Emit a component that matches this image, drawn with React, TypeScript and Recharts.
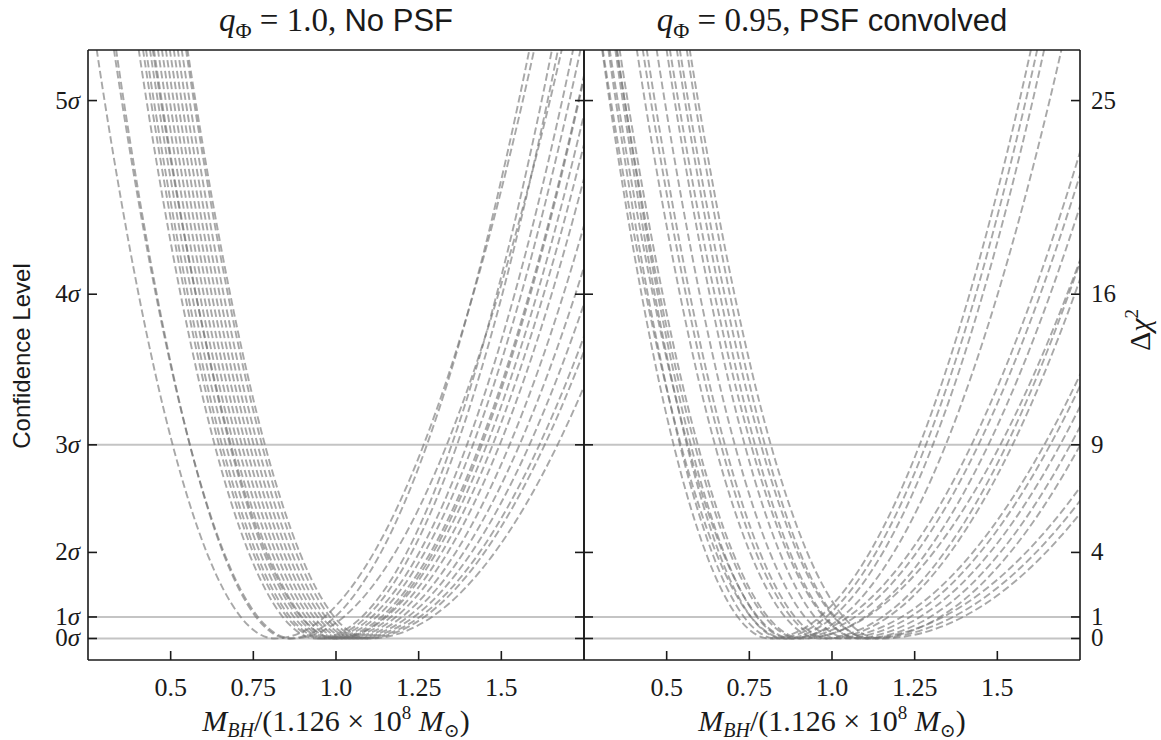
import React from 'react'
import { LineChart, Line, XAxis, YAxis, ReferenceLine } from 'recharts'

// Δχ² levels at which every profile's x-crossings were read: 6σ..1σ left, minimum, 1σ..6σ right
const DCHI2_LEVELS = [36, 25, 16, 9, 4, 1, 0, 1, 4, 9, 16, 25, 36]

const Y_TICKS = [0, 1, 4, 9, 16, 25]
const SIGMA_LABELS = ['0', '1', '2', '3', '4', '5']
const CHI2_LABELS = ['0', '1', '4', '9', '16', '25']
const X_TICKS = [0.5, 0.75, 1.0, 1.25, 1.5]
const X_TICK_LABELS = ['0.5', '0.75', '1.0', '1.25', '1.5']
const REF_LEVELS = [0, 1, 9]

// left panel: q = 1.0, no PSF
const NO_PSF_CURVES = [
  [0.197, 0.3, 0.403, 0.506, 0.609, 0.712, 0.815, 0.965, 1.115, 1.265, 1.415, 1.565, 1.715],
  [0.258, 0.358, 0.458, 0.558, 0.658, 0.758, 0.858, 0.997, 1.136, 1.275, 1.414, 1.553, 1.692],
  [0.249, 0.352, 0.455, 0.558, 0.661, 0.764, 0.867, 1.023, 1.179, 1.335, 1.491, 1.647, 1.803],
  [0.324, 0.427, 0.53, 0.633, 0.736, 0.839, 0.942, 1.078, 1.214, 1.35, 1.486, 1.622, 1.758],
  [0.337, 0.44, 0.543, 0.646, 0.749, 0.852, 0.955, 1.092, 1.229, 1.366, 1.503, 1.64, 1.777],
  [0.346, 0.449, 0.552, 0.655, 0.758, 0.861, 0.964, 1.108, 1.252, 1.396, 1.54, 1.684, 1.828],
  [0.358, 0.461, 0.564, 0.667, 0.77, 0.873, 0.976, 1.122, 1.268, 1.414, 1.56, 1.706, 1.852],
  [0.37, 0.473, 0.576, 0.679, 0.782, 0.885, 0.988, 1.137, 1.286, 1.435, 1.584, 1.733, 1.882],
  [0.382, 0.485, 0.588, 0.691, 0.794, 0.897, 1.0, 1.152, 1.304, 1.456, 1.608, 1.76, 1.912],
  [0.364, 0.47, 0.576, 0.682, 0.788, 0.894, 1.0, 1.147, 1.294, 1.441, 1.588, 1.735, 1.882],
  [0.394, 0.497, 0.6, 0.703, 0.806, 0.909, 1.012, 1.166, 1.32, 1.474, 1.628, 1.782, 1.936],
  [0.406, 0.509, 0.612, 0.715, 0.818, 0.921, 1.024, 1.181, 1.338, 1.495, 1.652, 1.809, 1.966],
  [0.418, 0.521, 0.624, 0.727, 0.83, 0.933, 1.036, 1.199, 1.362, 1.525, 1.688, 1.851, 2.014],
  [0.43, 0.533, 0.636, 0.739, 0.842, 0.945, 1.048, 1.217, 1.386, 1.555, 1.724, 1.893, 2.062],
  [0.442, 0.545, 0.648, 0.751, 0.854, 0.957, 1.06, 1.235, 1.41, 1.585, 1.76, 1.935, 2.11],
  [0.454, 0.557, 0.66, 0.763, 0.866, 0.969, 1.072, 1.253, 1.434, 1.615, 1.796, 1.977, 2.158],
  [0.467, 0.57, 0.673, 0.776, 0.879, 0.982, 1.085, 1.267, 1.449, 1.631, 1.813, 1.995, 2.177],
  [0.47, 0.575, 0.68, 0.785, 0.89, 0.995, 1.1, 1.29, 1.48, 1.67, 1.86, 2.05, 2.24],
]

// right panel: q = 0.95, PSF convolved
const PSF_CURVES = [
  [0.23, 0.327, 0.424, 0.521, 0.618, 0.715, 0.812, 0.963, 1.114, 1.265, 1.416, 1.567, 1.718],
  [0.249, 0.346, 0.443, 0.54, 0.637, 0.734, 0.831, 0.982, 1.133, 1.284, 1.435, 1.586, 1.737],
  [0.27, 0.367, 0.464, 0.561, 0.658, 0.755, 0.852, 1.003, 1.154, 1.305, 1.456, 1.607, 1.758],
  [0.273, 0.373, 0.473, 0.573, 0.673, 0.773, 0.873, 1.03, 1.187, 1.344, 1.501, 1.658, 1.815],
  [0.225, 0.331, 0.437, 0.543, 0.649, 0.755, 0.861, 1.048, 1.235, 1.422, 1.609, 1.796, 1.983],
  [0.246, 0.352, 0.458, 0.564, 0.67, 0.776, 0.882, 1.069, 1.256, 1.443, 1.63, 1.817, 2.004],
  [0.276, 0.382, 0.488, 0.594, 0.7, 0.806, 0.912, 1.099, 1.286, 1.473, 1.66, 1.847, 2.034],
  [0.267, 0.373, 0.479, 0.585, 0.691, 0.797, 0.903, 1.105, 1.307, 1.509, 1.711, 1.913, 2.115],
  [0.328, 0.434, 0.54, 0.646, 0.752, 0.858, 0.964, 1.152, 1.34, 1.528, 1.716, 1.904, 2.092],
  [0.346, 0.452, 0.558, 0.664, 0.77, 0.876, 0.982, 1.17, 1.358, 1.546, 1.734, 1.922, 2.11],
  [0.358, 0.464, 0.57, 0.676, 0.782, 0.888, 0.994, 1.21, 1.426, 1.642, 1.858, 2.074, 2.29],
  [0.388, 0.494, 0.6, 0.706, 0.812, 0.918, 1.024, 1.236, 1.448, 1.66, 1.872, 2.084, 2.296],
  [0.418, 0.524, 0.63, 0.736, 0.842, 0.948, 1.054, 1.266, 1.478, 1.69, 1.902, 2.114, 2.326],
  [0.449, 0.555, 0.661, 0.767, 0.873, 0.979, 1.085, 1.297, 1.509, 1.721, 1.933, 2.145, 2.357],
  [0.479, 0.585, 0.691, 0.797, 0.903, 1.009, 1.115, 1.327, 1.539, 1.751, 1.963, 2.175, 2.387],
  [0.425, 0.535, 0.645, 0.755, 0.865, 0.975, 1.085, 1.336, 1.587, 1.838, 2.089, 2.34, 2.591],
  [0.455, 0.565, 0.675, 0.785, 0.895, 1.005, 1.115, 1.366, 1.617, 1.868, 2.119, 2.37, 2.621],
  [0.485, 0.595, 0.705, 0.815, 0.925, 1.035, 1.145, 1.396, 1.647, 1.898, 2.149, 2.4, 2.651],
]

const X_DOMAIN: [number, number] = [0.25, 1.75]
const Y_DOMAIN: [number, number] = [-1, 27.35]

const SERIF = '"Liberation Serif", "DejaVu Serif", serif'
const SANS = '"Liberation Sans", Arial, sans-serif'
const TICK_LEN = 9
const INK = '#1a1a1a'

function toPoints(xs: number[]) {
  return xs.map((x, i) => ({ x, y: DCHI2_LEVELS[i] }))
}

// inward ticks, matplotlib style
const bottomTick = (p: any) => {
  const i = X_TICKS.indexOf(p.payload.value)
  return (
    <g>
      <line x1={p.x} x2={p.x} y1={p.y} y2={p.y - TICK_LEN} stroke={INK} strokeWidth={1.6} />
      <text x={p.x} y={p.y + 36} textAnchor="middle" fontFamily={SERIF} fontSize={26} fill={INK}>
        {X_TICK_LABELS[i]}
      </text>
    </g>
  )
}

const topTick = (p: any) => (
  <line x1={p.x} x2={p.x} y1={p.y} y2={p.y + TICK_LEN} stroke={INK} strokeWidth={1.6} />
)

const leftTick = (mode: 'sigma' | 'none') => (p: any) => {
  const i = Y_TICKS.indexOf(p.payload.value)
  return (
    <g>
      <line x1={p.x} x2={p.x + TICK_LEN} y1={p.y} y2={p.y} stroke={INK} strokeWidth={1.6} />
      {mode === 'sigma' && (
        <text x={p.x - 8} y={p.y + 8} textAnchor="end" fontFamily={SERIF} fontSize={25} fill={INK}>
          {SIGMA_LABELS[i]}
          <tspan fontStyle="italic">σ</tspan>
        </text>
      )}
    </g>
  )
}

const rightTick = (mode: 'chi2' | 'none') => (p: any) => {
  const i = Y_TICKS.indexOf(p.payload.value)
  return (
    <g>
      <line x1={p.x - TICK_LEN} x2={p.x} y1={p.y} y2={p.y} stroke={INK} strokeWidth={1.6} />
      {mode === 'chi2' && (
        <text x={p.x + 11} y={p.y + 8} textAnchor="start" fontFamily={SERIF} fontSize={25} fill={INK}>
          {CHI2_LABELS[i]}
        </text>
      )}
    </g>
  )
}

function Panel({ curves, side }: { curves: number[][]; side: 'left' | 'right' }) {
  const isLeft = side === 'left'
  const width = isLeft ? 600 : 587
  const margin = isLeft
    ? { top: 40, right: 6, bottom: 40, left: 28 }
    : { top: 40, right: 21, bottom: 40, left: 0 }
  const axisLine = { stroke: INK, strokeWidth: 1.6 }
  return (
    <div style={{ position: 'absolute', left: isLeft ? 0 : 574, top: 0 }}>
      <LineChart width={width} height={740} margin={margin}>
        <XAxis
          xAxisId={0}
          type="number"
          dataKey="x"
          domain={X_DOMAIN}
          allowDataOverflow
          ticks={X_TICKS}
          interval={0}
          height={40}
          tickSize={0}
          tickMargin={0}
          tickLine={false}
          axisLine={axisLine}
          tick={bottomTick}
        />
        <XAxis
          xAxisId="top"
          orientation="top"
          type="number"
          domain={X_DOMAIN}
          allowDataOverflow
          ticks={X_TICKS}
          interval={0}
          height={10}
          tickSize={0}
          tickMargin={0}
          tickLine={false}
          axisLine={axisLine}
          tick={topTick}
        />
        <YAxis
          yAxisId={0}
          type="number"
          domain={Y_DOMAIN}
          allowDataOverflow
          ticks={Y_TICKS}
          interval={0}
          width={isLeft ? 60 : 10}
          tickSize={0}
          tickMargin={0}
          tickLine={false}
          axisLine={axisLine}
          tick={leftTick(isLeft ? 'sigma' : 'none')}
        />
        <YAxis
          yAxisId="right"
          orientation="right"
          type="number"
          domain={Y_DOMAIN}
          allowDataOverflow
          ticks={Y_TICKS}
          interval={0}
          width={isLeft ? 10 : 60}
          tickSize={0}
          tickMargin={0}
          tickLine={false}
          axisLine={axisLine}
          tick={rightTick(isLeft ? 'none' : 'chi2')}
        />
        {REF_LEVELS.map((v) => (
          <ReferenceLine key={v} y={v} stroke="#c4c4c4" strokeWidth={2} />
        ))}
        {curves.map((c, i) => (
          <Line
            key={i}
            data={toPoints(c)}
            dataKey="y"
            type="monotoneX"
            stroke="#737373"
            strokeOpacity={0.62}
            strokeWidth={1.9}
            strokeDasharray="7.5 3.5"
            dot={false}
            activeDot={false}
            isAnimationActive={false}
          />
        ))}
      </LineChart>
    </div>
  )
}

function Title({ left, q, text }: { left: number; q: string; text: string }) {
  return (
    <div
      style={{
        position: 'absolute',
        left,
        top: 0,
        width: 496,
        textAlign: 'center',
        fontFamily: SERIF,
        fontSize: 33,
        lineHeight: '40px',
        color: INK,
        whiteSpace: 'nowrap',
      }}
    >
      <i>q</i>
      <span style={{ fontSize: 22, position: 'relative', top: 7 }}>Φ</span> = {q},{' '}
      <span style={{ fontFamily: SANS, fontSize: 31 }}>{text}</span>
    </div>
  )
}

function XLabel({ left }: { left: number }) {
  return (
    <div
      style={{
        position: 'absolute',
        left,
        top: 703,
        width: 496,
        textAlign: 'center',
        fontFamily: SERIF,
        fontSize: 30,
        lineHeight: '36px',
        color: INK,
        whiteSpace: 'nowrap',
      }}
    >
      <i>M</i>
      <i style={{ fontSize: 20, position: 'relative', top: 6 }}>BH</i>/(1.126 × 10
      <span style={{ fontSize: 19, position: 'relative', top: -12 }}>8</span> <i>M</i>
      <span style={{ fontSize: 19, position: 'relative', top: 6 }}>⊙</span>)
    </div>
  )
}

export default function App() {
  return (
    <div
      style={{
        position: 'absolute',
        left: 0,
        top: 0,
        width: 1161,
        height: 740,
        background: '#fff',
        overflow: 'hidden',
      }}
    >
      <Panel curves={NO_PSF_CURVES} side="left" />
      <Panel curves={PSF_CURVES} side="right" />
      <Title left={88} q="1.0" text="No PSF" />
      <Title left={584} q="0.95" text="PSF convolved" />
      <XLabel left={88} />
      <XLabel left={584} />
      <div
        style={{
          position: 'absolute',
          left: 22,
          top: 356,
          transform: 'translate(-50%, -50%) rotate(-90deg)',
          fontFamily: SANS,
          fontSize: 24,
          color: INK,
          whiteSpace: 'nowrap',
        }}
      >
        Confidence Level
      </div>
      <div
        style={{
          position: 'absolute',
          left: 1140,
          top: 330,
          transform: 'translate(-50%, -50%) rotate(-90deg)',
          fontFamily: SERIF,
          fontSize: 30,
          color: INK,
          whiteSpace: 'nowrap',
        }}
      >
        Δ<i>χ</i>
        <span style={{ fontSize: 19, position: 'relative', top: -12 }}>2</span>
      </div>
    </div>
  )
}
